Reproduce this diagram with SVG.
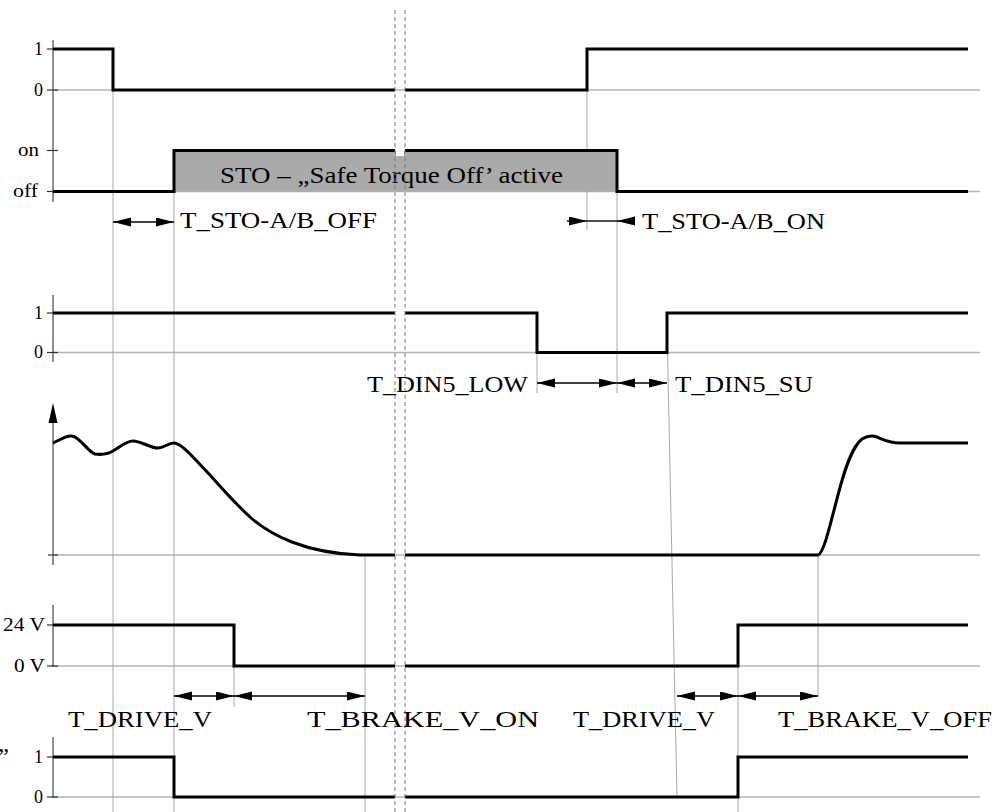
<svg xmlns="http://www.w3.org/2000/svg" width="1000" height="812" viewBox="0 0 1000 812">
<style>
.sig{fill:none;stroke:#000;stroke-width:3;stroke-linejoin:miter}
.grid{fill:none;stroke:#b4b4b4;stroke-width:1.5}
.mark{fill:none;stroke:#a8a8a8;stroke-width:1}
.axis{fill:none;stroke:#555;stroke-width:1.3}
.tick{fill:none;stroke:#333;stroke-width:1.2}
.dash{fill:none;stroke:#777;stroke-width:1;stroke-dasharray:4 3}
.dim{fill:none;stroke:#000;stroke-width:1.4}
.lbl{font-family:"Liberation Serif","Times New Roman",serif;font-size:18px;fill:#000}
.big{font-family:"Liberation Serif","Times New Roman",serif;font-size:24px;fill:#000}
</style>
<defs>
<marker id="ah" markerUnits="userSpaceOnUse" markerWidth="20" markerHeight="10" refX="18" refY="4.5" orient="auto-start-reverse">
<path d="M0,0 L18,4.5 L0,9 z" fill="#000"/>
</marker>
</defs>
<rect width="1000" height="812" fill="#fff"/>

<g id="gridlines">
<line class="grid" x1="53" y1="90" x2="980" y2="90"/>
<line class="grid" x1="53" y1="191.5" x2="980" y2="191.5"/>
<line class="grid" x1="53" y1="352.5" x2="980" y2="352.5"/>
<line class="grid" x1="53" y1="555" x2="980" y2="555"/>
<line class="grid" x1="53" y1="666" x2="980" y2="666"/>
<line class="grid" x1="53" y1="797" x2="980" y2="797"/>
</g>

<g id="markers">
<line class="mark" x1="113" y1="90" x2="113" y2="812"/>
<line class="mark" x1="174" y1="150" x2="174" y2="812"/>
<line class="mark" x1="587" y1="90" x2="587" y2="230"/>
<line class="mark" x1="617" y1="191" x2="617" y2="393"/>
<line class="mark" x1="537" y1="352" x2="537" y2="393"/>
<line class="mark" x1="667.5" y1="352" x2="677" y2="797"/>
<line class="mark" x1="234" y1="625" x2="234" y2="707"/>
<line class="mark" x1="365" y1="555" x2="365" y2="812"/>
<line class="mark" x1="738" y1="625" x2="738" y2="812"/>
<line class="mark" x1="818" y1="555" x2="818" y2="697"/>
</g>

<g id="axes">
<line class="axis" x1="53" y1="40" x2="53" y2="202"/>
<line class="axis" x1="53" y1="295" x2="53" y2="362"/>
<line class="axis" x1="53" y1="420" x2="53" y2="565"/>
<path d="M53,403 L48.5,423 L57.5,423 z" fill="#000"/>
<line class="axis" x1="53" y1="605" x2="53" y2="667"/>
<line class="axis" x1="53" y1="737" x2="53" y2="798"/>
<line class="tick" x1="47" y1="49" x2="58" y2="49"/>
<line class="tick" x1="47" y1="90" x2="58" y2="90"/>
<line class="tick" x1="47" y1="150.5" x2="58" y2="150.5"/>
<line class="tick" x1="47" y1="191.5" x2="58" y2="191.5"/>
<line class="tick" x1="47" y1="313" x2="58" y2="313"/>
<line class="tick" x1="47" y1="352.5" x2="58" y2="352.5"/>
<line class="tick" x1="48" y1="555" x2="58" y2="555"/>
<line class="tick" x1="47" y1="625" x2="58" y2="625"/>
<line class="tick" x1="47" y1="666" x2="58" y2="666"/>
<line class="tick" x1="47" y1="757" x2="58" y2="757"/>
<line class="tick" x1="47" y1="797" x2="58" y2="797"/>
</g>

<g id="axis-labels">
<text class="lbl" x="43" y="55" text-anchor="end">1</text>
<text class="lbl" x="43" y="96" text-anchor="end">0</text>
<text class="lbl" x="18" y="156" textLength="21" lengthAdjust="spacingAndGlyphs">on</text>
<text class="lbl" x="13" y="197" textLength="25" lengthAdjust="spacingAndGlyphs">off</text>
<text class="lbl" x="43" y="319" text-anchor="end">1</text>
<text class="lbl" x="43" y="358" text-anchor="end">0</text>
<text class="lbl" x="3" y="631" textLength="42" lengthAdjust="spacingAndGlyphs">24 V</text>
<text class="lbl" x="14" y="672" textLength="31" lengthAdjust="spacingAndGlyphs">0 V</text>
<text class="lbl" x="43" y="763" text-anchor="end">1</text>
<text class="lbl" x="43" y="803" text-anchor="end">0</text>
<text class="big" x="9" y="764" text-anchor="end">”</text>
</g>

<g id="signal-input">
<path class="sig" d="M53,49 L113,49 L113,90 L395,90 M405,90 L587,90 L587,49 L968,49"/>
</g>

<g id="signal-sto">
<rect x="174" y="150.5" width="443" height="41" fill="#aaaaaa"/>
<path class="sig" d="M53,191.5 L174,191.5 L174,150.5 L395,150.5 M405,150.5 L617,150.5 L617,191.5 L968,191.5"/>
<rect x="396" y="148" width="8" height="8" fill="#fff"/>
<text class="big" x="220" y="183" textLength="343" lengthAdjust="spacingAndGlyphs">STO – „Safe Torque Off’ active</text>
</g>

<g id="signal-din5">
<path class="sig" d="M53,313 L395,313 M405,313 L537,313 L537,352.5 L667,352.5 L667,313 L968,313"/>
</g>

<g id="signal-speed">
<path class="sig" d="M53,443 C60,440 66,435 72,436 C80,437 88,452 95,454 C102,455 108,454 113,451 C120,447 126,441 133,441 C141,441 150,448 158,448 C164,448 168,443 174,443 C181,443 192,456 210,475 C225,492 238,506 250,517 C270,535 305,553 360,555 L395,555 M405,555 L818,555 C824,553 830,525 838,495 C845,468 852,447 862,439 C867,436 872,435 877,437 C884,440 890,443 900,443 L968,443"/>
</g>

<g id="signal-brake">
<path class="sig" d="M53,625 L234,625 L234,666 L395,666 M405,666 L738,666 L738,625 L968,625"/>
</g>

<g id="signal-bottom">
<path class="sig" d="M53,757 L174,757 L174,797 L395,797 M405,797 L738,797 L738,757 L968,757"/>
</g>

<g id="breaks">
<line class="dash" x1="395" y1="10" x2="395" y2="812"/>
<line class="dash" x1="405" y1="10" x2="405" y2="812"/>
</g>

<g id="connectors">
<line class="dim" x1="113" y1="222" x2="174" y2="222" marker-start="url(#ah)" marker-end="url(#ah)"/>
<line class="dim" x1="567" y1="221" x2="587" y2="221" marker-end="url(#ah)"/>
<line class="dim" x1="587" y1="221" x2="617" y2="221"/>
<line class="dim" x1="635" y1="221" x2="617" y2="221" marker-end="url(#ah)"/>
<line class="dim" x1="537" y1="383" x2="617" y2="383" marker-start="url(#ah)" marker-end="url(#ah)"/>
<line class="dim" x1="617" y1="383" x2="667" y2="383" marker-start="url(#ah)" marker-end="url(#ah)"/>
<line class="dim" x1="174" y1="696" x2="234" y2="696" marker-start="url(#ah)" marker-end="url(#ah)"/>
<line class="dim" x1="234" y1="696" x2="365" y2="696" marker-start="url(#ah)" marker-end="url(#ah)"/>
<line class="dim" x1="677" y1="696" x2="738" y2="696" marker-start="url(#ah)" marker-end="url(#ah)"/>
<line class="dim" x1="738" y1="696" x2="818" y2="696" marker-start="url(#ah)" marker-end="url(#ah)"/>
</g>

<g id="timing-labels">
<text class="big" x="180" y="228" textLength="197" lengthAdjust="spacingAndGlyphs">T_STO-A/B_OFF</text>
<text class="big" x="642" y="229" textLength="183" lengthAdjust="spacingAndGlyphs">T_STO-A/B_ON</text>
<text class="big" x="367" y="392" textLength="161" lengthAdjust="spacingAndGlyphs">T_DIN5_LOW</text>
<text class="big" x="675" y="392" textLength="138" lengthAdjust="spacingAndGlyphs">T_DIN5_SU</text>
<text class="big" x="68" y="727" textLength="144" lengthAdjust="spacingAndGlyphs">T_DRIVE_V</text>
<text class="big" x="307" y="727" textLength="232" lengthAdjust="spacingAndGlyphs">T_BRAKE_V_ON</text>
<text class="big" x="573" y="727" textLength="142" lengthAdjust="spacingAndGlyphs">T_DRIVE_V</text>
<text class="big" x="778" y="727" textLength="214" lengthAdjust="spacingAndGlyphs">T_BRAKE_V_OFF</text>
</g>
</svg>
